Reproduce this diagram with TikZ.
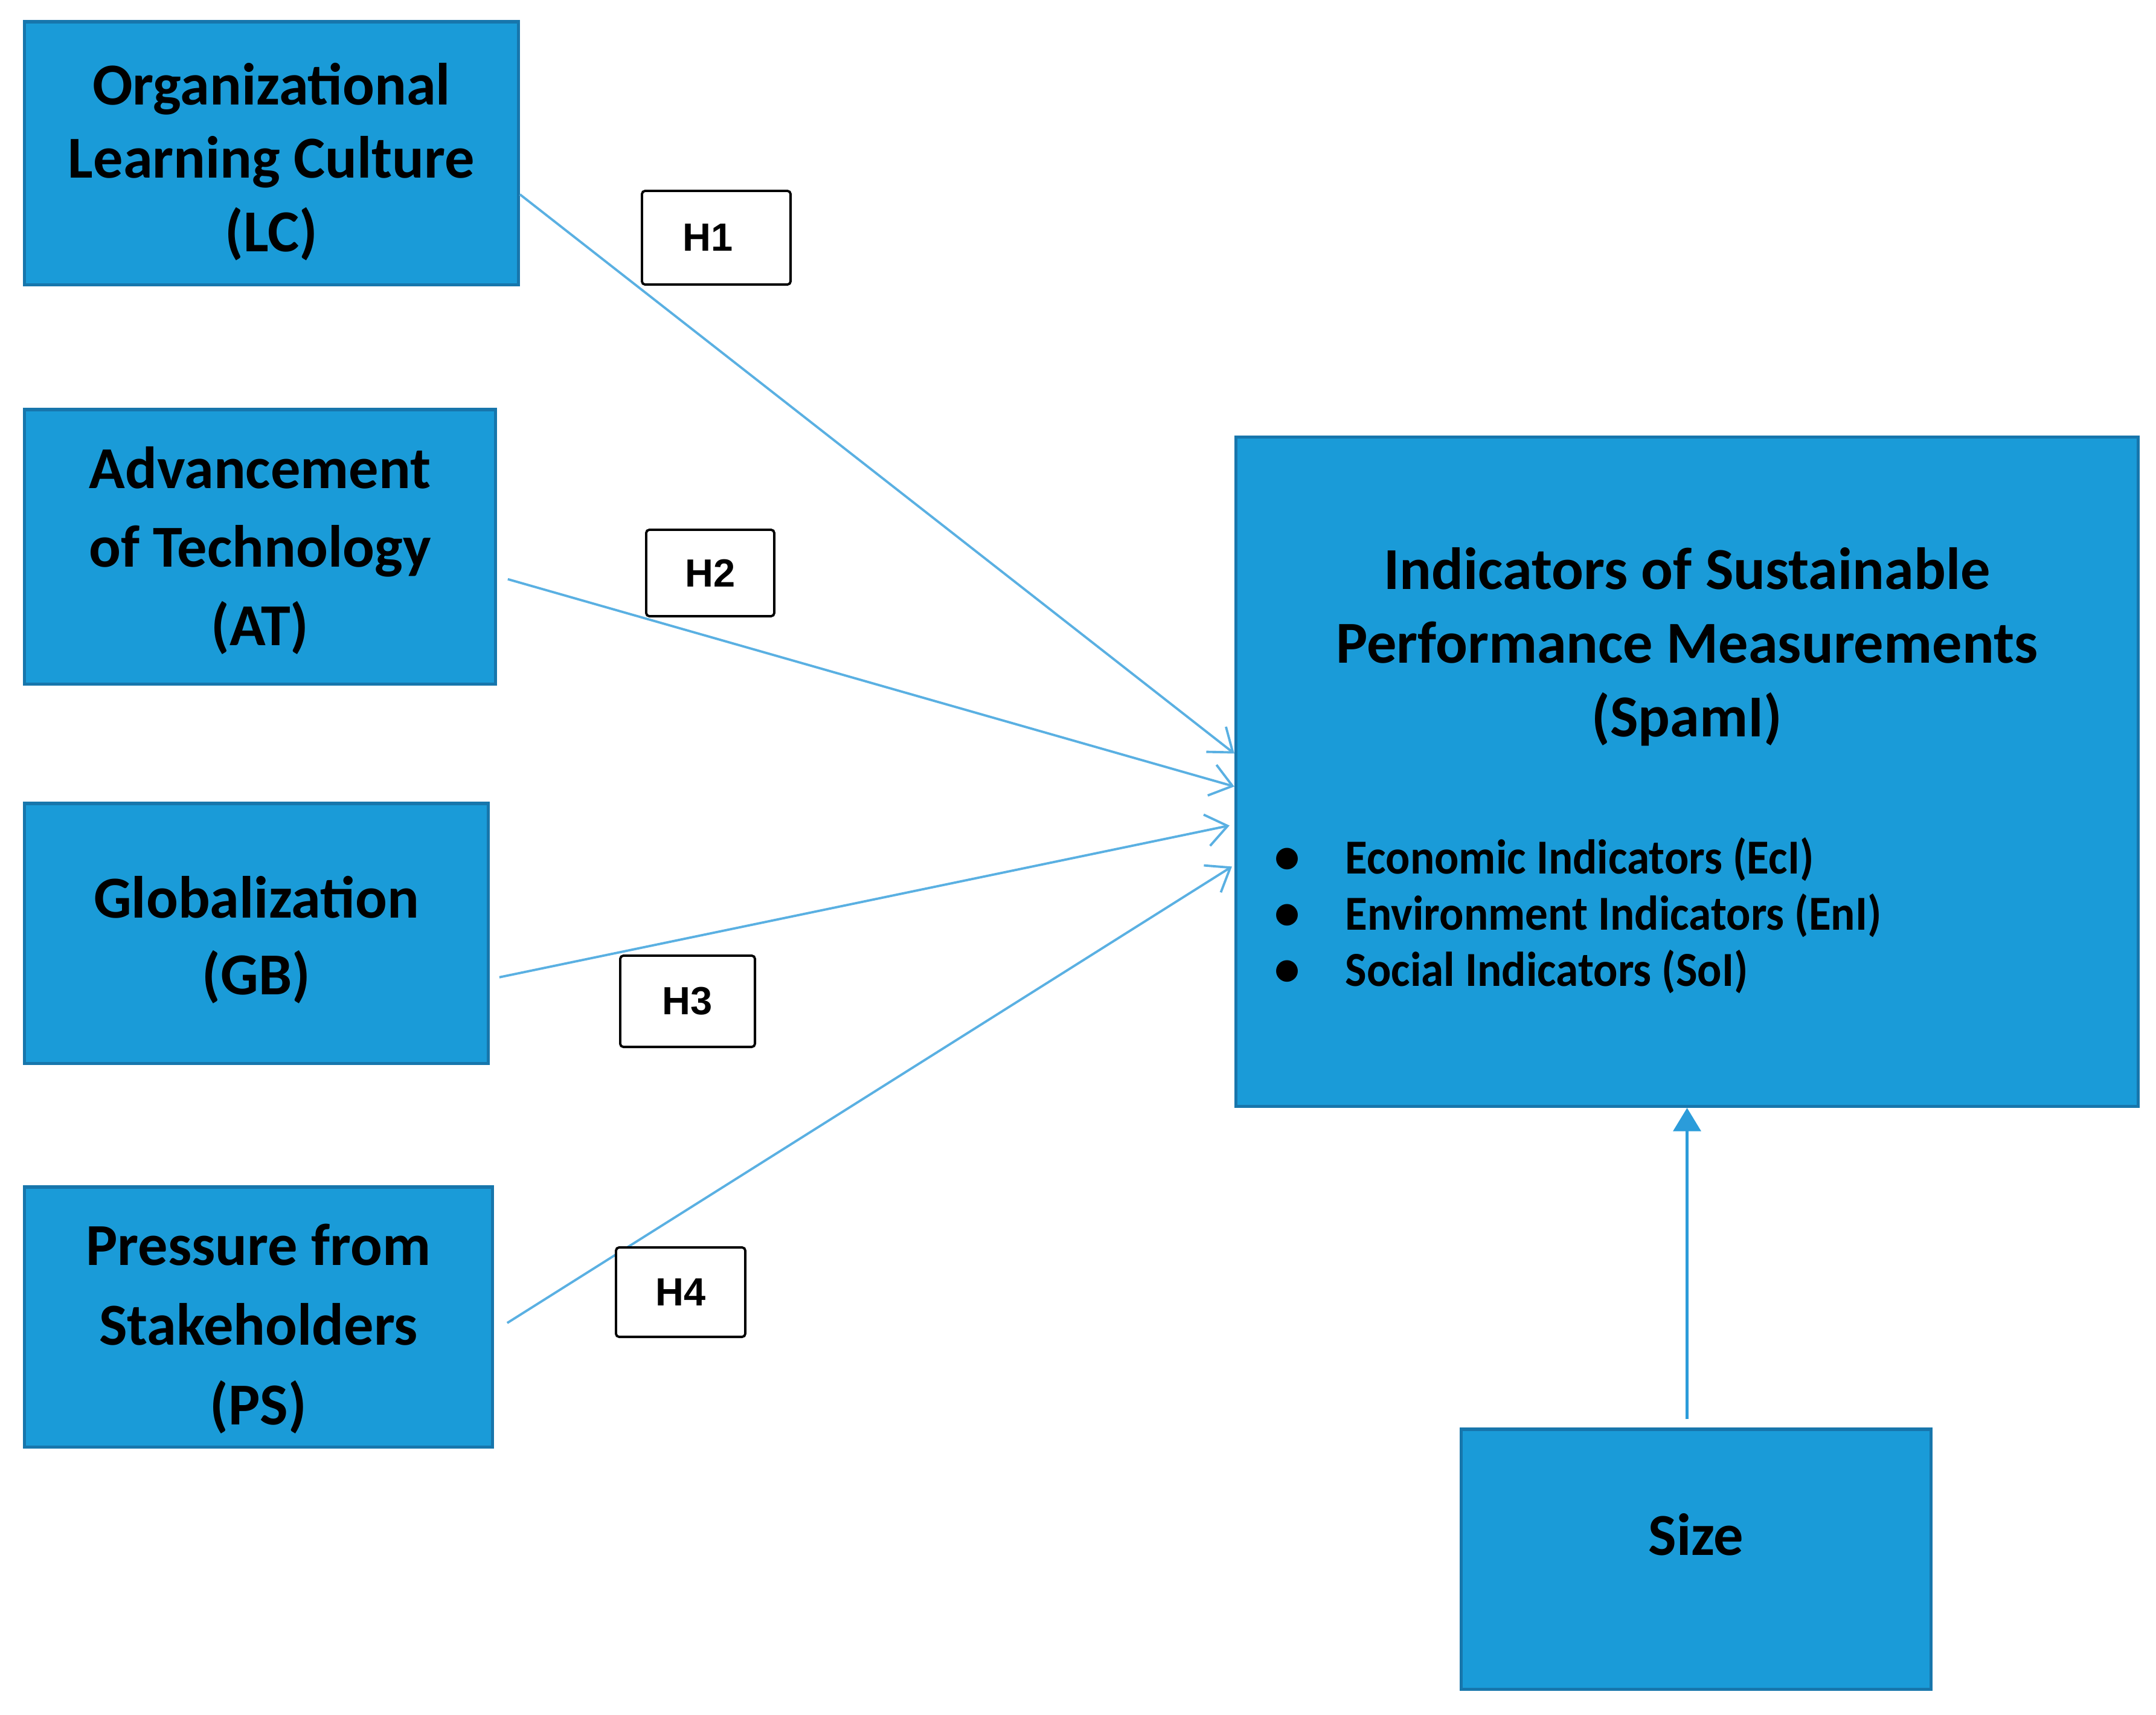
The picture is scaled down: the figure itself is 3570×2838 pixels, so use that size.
\documentclass[tikz,border=0pt]{standalone}
\usepackage{fontspec}
\setmainfont{Carlito}
\newfontfamily\condfont{Carlito}[FakeStretch=0.93]
\newfontfamily\hfont{Liberation Sans}
\usetikzlibrary{arrows.meta,calc}
\definecolor{boxfill}{HTML}{1A9BD8}
\definecolor{boxline}{HTML}{1776AC}
\definecolor{conn}{HTML}{5AB0E2}
\definecolor{sizearrow}{HTML}{2B9CDA}
\begin{document}
\begin{tikzpicture}[x=0.01cm,y=-0.01cm,
  bluebox/.style={rectangle,draw=boxline,line width=1.5pt,fill=boxfill,inner sep=0pt},
  boxtext/.style={align=center,inner sep=0pt,font=\bfseries\fontsize{28}{34.5}\selectfont},
  widetext/.style={boxtext,font=\bfseries\fontsize{28}{37.5}\selectfont},
  hbox/.style={rectangle,draw=black,line width=1.1pt,fill=white,rounded corners=1.5pt,inner sep=0pt,
    font=\hfont\bfseries\fontsize{18.5}{20}\selectfont},
  link/.style={draw=conn,line width=1.1pt,-{Straight Barb[length=10pt,width=15pt,line width=1.1pt]}},
  sizelink/.style={draw=sizearrow,line width=1.3pt,-{Triangle[length=11pt,width=13pt]}},
  itemtext/.style={anchor=west,inner sep=0pt,font=\condfont\bfseries\fontsize{23}{26}\selectfont},
  bullettext/.style={anchor=center,inner sep=0pt,font=\bfseries\fontsize{24}{26}\selectfont}]
\useasboundingbox (0,0) rectangle (3570,2838);

\node[bluebox,minimum width=8.17cm,minimum height=4.35cm] (lc) at (449.5,253.5) {};
\node[boxtext] (lctext) at ($(lc.center)+(0,14)$) {Organizational\\Learning Culture\\(LC)};
\node[bluebox,minimum width=7.79cm,minimum height=4.54cm] (at) at (430.5,905) {};
\node[widetext,font=\bfseries\fontsize{28}{37}\selectfont] (attext) at ($(at.center)+(0,6)$) {Advancement\\of Technology\\(AT)};
\node[bluebox,minimum width=7.67cm,minimum height=4.30cm] (gb) at (424.5,1545) {};
\node[boxtext,font=\bfseries\fontsize{28}{36}\selectfont] (gbtext) at ($(gb.center)+(0,11)$) {Globalization\\(GB)};
\node[bluebox,minimum width=7.74cm,minimum height=4.30cm] (ps) at (428,2180) {};
\node[widetext] (pstext) at ($(ps.center)+(0,20)$) {Pressure from\\Stakeholders\\(PS)};

\node[bluebox,minimum width=14.93cm,minimum height=11.07cm] (spaml) at (2793.5,1277.5) {};
\node[boxtext,font=\bfseries\fontsize{28}{34.7}\selectfont] (spamltitle) at (2793.5,1071)
  {Indicators of Sustainable\\Performance Measurements\\(SpamI)};
\node[bullettext] (b1) at (2131,1425) {•};
\node[bullettext] (b2) at (2131,1518) {•};
\node[bullettext] (b3) at (2131,1611) {•};
\node[itemtext] (i1) at (2227,1423) {Economic Indicators (EcI)};
\node[itemtext] (i2) at (2227,1516) {Environment Indicators (EnI)};
\node[itemtext] (i3) at (2227,1609) {Social Indicators (SoI)};

\node[bluebox,minimum width=7.77cm,minimum height=4.30cm] (size) at (2808.5,2581) {};
\node[boxtext] (sizetext) at ($(size.center)+(0,-41)$) {Size};

\draw[link] ($(lc.north east)!0.655!(lc.south east)$) -- ($(spaml.north west)!0.473!(spaml.south west)$);
\draw[link] ($(at.north east)!0.617!(at.south east)+(18,0)$) -- ($(spaml.north west)!0.522!(spaml.south west)$);
\draw[link] ($(gb.north east)!0.667!(gb.south east)+(16,0)$) -- ($(spaml.north west)!0.580!(spaml.south west)+(-8,0)$);
\draw[link] ($(ps.north east)!0.523!(ps.south east)+(22,0)$) -- ($(spaml.north west)!0.641!(spaml.south west)+(-4,0)$);
\draw[sizelink] ($(spaml.south |- size.north)+(0,-14)$) -- (spaml.south);

\node[hbox,minimum width=2.46cm,minimum height=1.55cm] (h1) at (1186,393.5) {\hspace*{-8pt}H1};
\node[hbox,minimum width=2.12cm,minimum height=1.43cm] (h2) at (1176,948.5) {H2};
\node[hbox,minimum width=2.23cm,minimum height=1.51cm] (h3) at (1138.5,1657.5) {H3};
\node[hbox,minimum width=2.14cm,minimum height=1.48cm] (h4) at (1127,2139) {H4};
\end{tikzpicture}
\end{document}
